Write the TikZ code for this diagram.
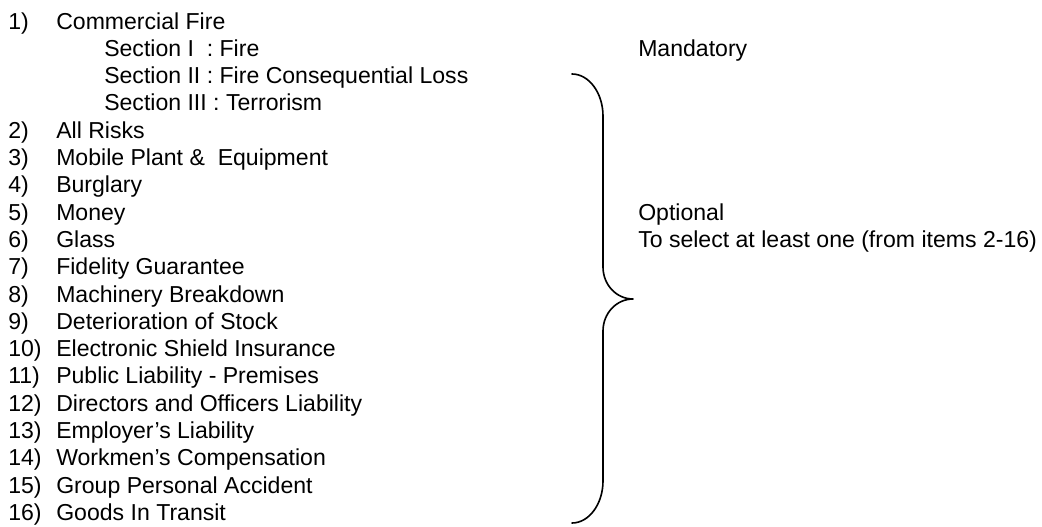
\documentclass[tikz,border=0pt]{standalone}
\usepackage{fontspec}
\setmainfont{Liberation Sans}
\tikzset{
  txt/.style={anchor=base west, inner sep=0pt, font=\fontsize{16.4}{19.5}\selectfont},
  brace/.style={line width=1.15pt, line cap=round, line join=round}
}

\begin{document}
\begin{tikzpicture}[x=0.025cm, y=-0.025cm]
            \useasboundingbox (0,0) rectangle (1042,527);
            % numbers
            \node[txt] (num1) at (8,29) {1)};
            \node[txt] (num2) at (8,138.2) {2)};
            \node[txt] (num3) at (8,165.5) {3)};
            \node[txt] (num4) at (8,192.8) {4)};
            \node[txt] (num5) at (8,220.1) {5)};
            \node[txt] (num6) at (8,247.4) {6)};
            \node[txt] (num7) at (8,274.7) {7)};
            \node[txt] (num8) at (8,302) {8)};
            \node[txt] (num9) at (8,329.3) {9)};
            \node[txt] (num10) at (8,356.6) {10)};
            \node[txt] (num11) at (8,383.9) {11)};
            \node[txt] (num12) at (8,411.2) {12)};
            \node[txt] (num13) at (8,438.5) {13)};
            \node[txt] (num14) at (8,465.8) {14)};
            \node[txt] (num15) at (8,493.1) {15)};
            \node[txt] (num16) at (8,520.4) {16)};
            % items
            \node[txt] (item1) at (56,29) {Commercial Fire};
            \node[txt] (sec1) at (104,56.3) {Section I\ \ : Fire};
            \node[txt] (sec2) at (104,83.6) {Section II : Fire Consequential Loss};
            \node[txt] (sec3) at (104,110.9) {Section III : Terrorism};
            \node[txt] (item2) at (56,138.2) {All Risks};
            \node[txt] (item3) at (56,165.5) {Mobile Plant \&\ \ Equipment};
            \node[txt] (item4) at (56,192.8) {Burglary};
            \node[txt] (item5) at (56,220.1) {Money};
            \node[txt] (item6) at (56,247.4) {Glass};
            \node[txt] (item7) at (56,274.7) {Fidelity Guarantee};
            \node[txt] (item8) at (56,302) {Machinery Breakdown};
            \node[txt] (item9) at (56,329.3) {Deterioration of Stock};
            \node[txt] (item10) at (56,356.6) {Electronic Shield Insurance};
            \node[txt] (item11) at (56,383.9) {Public Liability - Premises};
            \node[txt] (item12) at (56,411.2) {Directors and Officers Liability};
            \node[txt] (item13) at (56,438.5) {Employer’s Liability};
            \node[txt] (item14) at (56,465.8) {Workmen’s Compensation};
            \node[txt] (item15) at (56,493.1) {Group Personal Accident};
            \node[txt] (item16) at (56,520.4) {Goods In Transit};
            % right column
            \node[txt] (mand) at (638,56.3) {Mandatory};
            \node[txt] (opt) at (638,220.1) {Optional};
            \node[txt] (sel) at (638,247.4) {To select at least one (from items 2-16)};
            % brace
            \coordinate (brtop) at (572,74);
            \coordinate (brtip) at (633,299);
            \coordinate (brbot) at (572,523);
            \draw[brace] (brtop) .. controls (589,74) and (603,93) .. (603,116)
              -- (603,267) .. controls (603,284.7) and (616.4,299) .. (brtip)
              .. controls (616.4,299) and (603,313.3) .. (603,331)
              -- (603,481) .. controls (603,504) and (589,523) .. (brbot);
        \end{tikzpicture}
\end{document}
